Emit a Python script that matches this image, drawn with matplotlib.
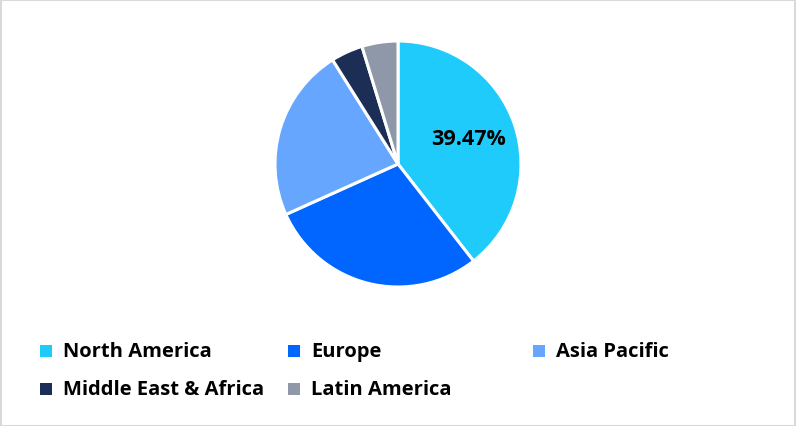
import matplotlib.pyplot as plt
from matplotlib.patches import Rectangle

REGIONS = ["North America", "Europe", "Asia Pacific", "Middle East & Africa", "Latin America"]
SHARES = [39.47, 28.8, 22.8, 4.2, 4.73]
COLORS = ["#1ECBFB", "#0066FF", "#66A6FF", "#1C2E55", "#8E98A8"]

plt.rcParams["font.family"] = ["Open Sans", "DejaVu Sans"]

W, H = 796, 427
fig = plt.figure(figsize=(W / 100, H / 100), dpi=100)

# Light grey frame around the whole chart
fig.add_artist(Rectangle((0.5 / W, 0.5 / H), 1 - 1.5 / W, 1 - 1.5 / H, transform=fig.transFigure,
                         fill=False, edgecolor="#D9D9D9", linewidth=1.5))

# Pie axes placed in pixel units: centre (398, 165), radius 123
cx, cy, r = 398, 165, 123
ax = fig.add_axes([(cx - r) / W, (H - cy - r) / H, 2 * r / W, 2 * r / H])
wedges, _ = ax.pie(
    SHARES,
    colors=COLORS,
    startangle=90,
    counterclock=False,
    wedgeprops={"edgecolor": "white", "linewidth": 2.2},
)
ax.set_xlim(-1, 1)
ax.set_ylim(-1, 1)
ax.set_aspect("equal")

# Only the largest slice carries a percentage label
ax.text(0.57, 0.205, f"{SHARES[0]:.2f}%", ha="center", va="center",
        fontsize=15.5, fontweight="bold", color="black")

# Legend drawn by hand so the columns sit where the original has them
col_x = [40, 288, 533]
row_y = [352, 390]
for i, (name, color) in enumerate(zip(REGIONS, COLORS)):
    x = col_x[i % 3]
    y = row_y[i // 3]
    fig.add_artist(Rectangle((x / W, (H - y - 6) / H), 12 / W, 12 / H,
                             transform=fig.transFigure, facecolor=color, edgecolor="none"))
    fig.text((x + 23) / W, (H - y) / H, name, ha="left", va="center",
             fontsize=14.5, fontweight="bold", color="black")

fig.savefig("out.png", dpi=100)
